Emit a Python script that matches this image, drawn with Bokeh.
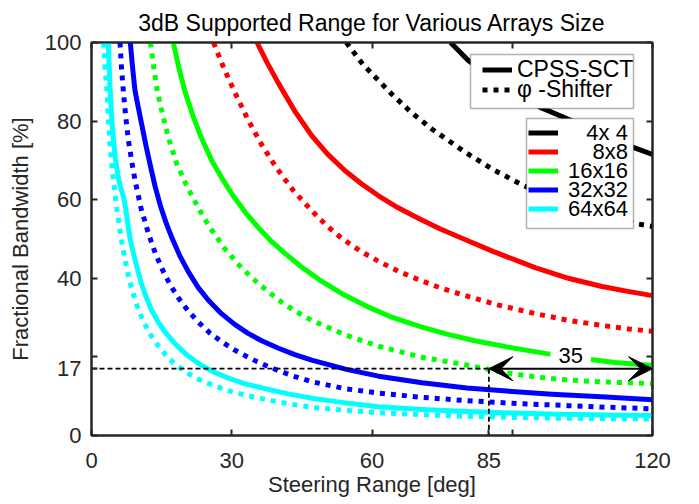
from bokeh.plotting import figure
from bokeh.models import (Legend, LegendItem, LinearAxis, FixedTicker, Label,
                          Arrow, VeeHead, Range1d, BoxAnnotation)
from bokeh.embed import file_html
from bokeh.resources import INLINE

FONT = "Liberation Sans"
AX_COLOR = "#262626"

# ---------------- data ----------------
title_text = "3dB Supported Range for Various Arrays Size"
array_sizes = ["4x 4", "8x8", "16x16", "32x32", "64x64"]
colors = ["#000000", "#FF0000", "#00FF00", "#0000FF", "#00FFFF"]

# CPSS-SCT (solid lines): steering range [deg] -> fractional bandwidth [%]
cpss_x_4 = [76.8, 80.6, 88.0, 96.0, 102.5, 109.0, 115.9, 120.0]
cpss_y_4 = [100.0, 95.4, 89.0, 83.5, 80.2, 76.6, 73.3, 71.5]
cpss_x_8 = [35.4, 37.5, 40.0, 43.5, 47.1, 50.5, 54.3, 57.8, 61.4, 65.5, 69.9, 74.5,
            80.0, 86.0, 94.9, 102.0, 109.2, 115.0, 120.0]
cpss_y_8 = [100.0, 95.0, 89.6, 82.5, 76.3, 71.6, 67.3, 64.0, 61.0, 58.0, 55.3, 52.6,
            49.8, 46.8, 42.7, 40.0, 37.9, 36.6, 35.6]
cpss_x_16 = [17.5, 18.7, 20.0, 21.8, 23.6, 25.7, 27.9, 30.4, 32.9, 35.6, 38.3, 41.5,
             45.0, 49.0, 54.3, 59.0, 64.0, 70.7, 76.0, 82.0, 90.0, 97.0, 105.0,
             112.0, 120.0]
cpss_y_16 = [100.0, 93.5, 87.5, 81.0, 75.5, 70.0, 65.5, 60.8, 56.8, 53.0, 49.6, 46.2,
             42.8, 39.4, 35.6, 32.8, 30.2, 27.6, 25.8, 24.1, 22.3, 20.9, 19.6, 18.6,
             17.8]
cpss_x_32 = [8.3, 8.8, 9.3, 10.0, 10.8, 11.7, 12.6, 13.6, 14.7, 15.9, 17.2, 18.9, 20.7,
             22.8, 25.0, 27.8, 30.7, 33.5, 36.4, 40.0, 43.5, 47.1, 54.3, 61.4, 70.7,
             80.3, 90.0, 98.5, 110.0, 120.0]
cpss_y_32 = [100.0, 93.5, 87.8, 83.5, 78.8, 73.5, 68.6, 63.4, 58.6, 54.3, 50.3, 45.7,
             41.7, 37.7, 34.4, 31.0, 28.2, 26.0, 24.1, 22.2, 20.6, 19.2, 16.9, 15.1,
             13.4, 12.1, 11.2, 10.5, 9.8, 9.1]
cpss_x_64 = [3.6, 3.8, 4.0, 4.3, 4.7, 5.2, 5.8, 6.4, 6.8, 7.1, 7.4, 7.8, 8.3, 9.0, 9.7,
             10.6, 11.5, 12.8, 14.3, 16.0, 17.9, 20.2, 22.9, 25.9, 29.3, 33.0, 37.2,
             42.0, 47.1, 54.3, 61.4, 70.7, 80.3, 90.0, 100.0, 110.0, 120.0]
cpss_y_64 = [100.0, 93.5, 87.8, 81.3, 75.1, 69.8, 65.2, 62.4, 60.9, 59.2, 57.0, 53.6,
             49.8, 46.2, 42.9, 39.0, 35.8, 32.0, 28.8, 25.9, 23.3, 20.7, 18.3, 16.3,
             14.6, 13.1, 11.9, 10.6, 9.5, 8.3, 7.3, 6.6, 6.1, 5.7, 5.4, 5.2, 5.1]

# phi-Shifter (dotted lines)
phi_x_4 = [54.5, 58.0, 64.2, 68.5, 72.8, 79.9, 86.0, 92.4, 98.5, 105.0, 111.0, 117.0, 120.0]
phi_y_4 = [100.0, 94.5, 86.9, 82.1, 78.0, 72.1, 67.6, 63.6, 60.5, 57.6, 55.4, 53.8, 53.2]
phi_x_8 = [26.1, 28.3, 30.7, 33.5, 36.4, 39.6, 43.2, 47.1, 50.3, 53.5, 57.3, 61.4,
           66.0, 70.7, 75.0, 79.6, 87.0, 94.9, 102.0, 109.2, 115.0, 120.0]
phi_y_8 = [100.0, 93.5, 87.2, 80.3, 74.0, 68.0, 62.3, 57.2, 53.4, 50.2, 47.1, 44.3,
           41.6, 39.3, 37.4, 35.7, 33.2, 31.0, 29.3, 28.0, 27.1, 26.5]
phi_x_16 = [12.6, 13.3, 14.0, 14.9, 15.8, 16.9, 18.2, 20.1, 22.2, 23.9, 25.7, 28.4,
            31.4, 33.9, 36.4, 40.0, 43.5, 47.1, 54.3, 61.4, 70.7, 79.9, 87.8, 95.0,
            102.0, 110.0, 120.0]
phi_y_16 = [100.0, 93.8, 88.0, 83.2, 78.8, 74.0, 69.3, 64.2, 59.4, 55.7, 52.3, 47.7,
            43.6, 40.6, 38.0, 34.5, 31.7, 29.3, 25.6, 22.7, 19.9, 18.0, 16.1, 14.9,
            14.1, 13.6, 13.2]
phi_x_32 = [6.1, 6.4, 6.8, 7.3, 7.9, 8.6, 9.3, 10.6, 12.2, 13.7, 15.4, 17.0, 18.6, 20.6,
            22.9, 25.3, 27.9, 30.4, 32.9, 35.4, 37.9, 40.0, 43.5, 47.1, 54.3, 61.4, 70.7,
            79.9, 90.0, 102.0, 110.0, 120.0]
phi_y_32 = [100.0, 93.8, 87.8, 81.3, 75.1, 69.8, 65.0, 57.8, 51.3, 46.2, 41.6, 38.0,
            35.0, 31.8, 28.8, 26.1, 23.8, 21.9, 20.3, 18.8, 17.5, 16.5, 15.0, 13.7,
            11.9, 10.8, 9.7, 8.9, 8.2, 7.6, 7.2, 6.8]
phi_x_64 = [2.6, 2.9, 3.3, 3.6, 3.9, 4.3, 4.8, 5.4, 6.1, 6.6, 7.2, 7.9, 8.6, 9.8, 11.1,
            12.6, 14.3, 16.0, 17.9, 20.2, 22.9, 25.9, 29.3, 33.5, 37.9, 42.5, 47.1,
            54.3, 61.4, 70.7, 79.9, 90.0, 100.0, 110.0, 120.0]
phi_y_64 = [100.0, 93.5, 87.8, 81.0, 75.1, 69.5, 63.8, 57.8, 52.2, 48.5, 44.6, 40.7,
            37.3, 32.8, 29.0, 25.7, 22.8, 20.3, 18.1, 16.1, 14.3, 12.8, 11.4, 10.1,
            9.0, 8.0, 7.2, 6.4, 5.8, 5.3, 4.9, 4.6, 4.4, 4.3, 4.2]

cpss_x = [cpss_x_4, cpss_x_8, cpss_x_16, cpss_x_32, cpss_x_64]
cpss_y = [cpss_y_4, cpss_y_8, cpss_y_16, cpss_y_32, cpss_y_64]
phi_x = [phi_x_4, phi_x_8, phi_x_16, phi_x_32, phi_x_64]
phi_y = [phi_y_4, phi_y_8, phi_y_16, phi_y_32, phi_y_64]

# annotation values
bw_target = 17        # %
steer_a = 85          # deg
steer_b = 120         # deg

x_ticks = [0, 30, 60, 85, 120]
x_minor = [90]
y_ticks = [0, 17, 40, 60, 80, 100]
y_minor = [20]
top_ticks = [0, 30, 60, 90, 120]
right_ticks = [0, 20, 40, 60, 80, 100]

series_names = ["CPSS-SCT", "\u03c6 -Shifter"]

# ---------------- layout constants (pixels) ----------------
W, H = 690, 500
FL, FR, FT, FB = 91, 652, 42, 435          # frame edges on the canvas

# ---------------- figure ----------------
p = figure(width=W, height=H, output_backend="svg", toolbar_location=None,
           x_range=Range1d(0, 120), y_range=Range1d(0, 100),
           min_border_left=FL, min_border_right=W - FR, min_border_top=FT,
           min_border_bottom=H - FB)
p.background_fill_color = "white"
p.border_fill_color = "white"
p.outline_line_color = AX_COLOR
p.outline_line_width = 2
p.grid.grid_line_color = None

p.title.text = title_text
p.title.align = "center"
p.title.text_font = FONT
p.title.text_font_size = "23px"
p.title.text_font_style = "normal"
p.title.text_color = "#000000"
p.title.standoff = 14


def style_axis(ax, labels=True):
    ax.axis_line_color = AX_COLOR
    ax.axis_line_width = 2
    ax.major_tick_in = 6
    ax.major_tick_out = 0
    ax.minor_tick_in = 6
    ax.minor_tick_out = 0
    ax.major_tick_line_color = AX_COLOR
    ax.minor_tick_line_color = AX_COLOR
    ax.major_tick_line_width = 2
    ax.minor_tick_line_width = 2
    ax.major_label_text_font = FONT
    ax.major_label_text_font_size = "22px" if labels else "0px"
    ax.major_label_text_color = AX_COLOR
    ax.axis_label_text_font = FONT
    ax.axis_label_text_font_size = "22px"
    ax.axis_label_text_font_style = "normal"
    ax.axis_label_text_color = AX_COLOR


xa = p.xaxis[0]
xa.ticker = FixedTicker(ticks=x_ticks, minor_ticks=x_minor)
xa.axis_label = "Steering Range [deg]"
style_axis(xa)
xa.major_label_standoff = 17
xa.axis_label_standoff = 1

ya = p.yaxis[0]
ya.ticker = FixedTicker(ticks=y_ticks, minor_ticks=y_minor)
ya.axis_label = "Fractional Bandwidth [%]"
style_axis(ya)
ya.major_label_standoff = 10
ya.axis_label_standoff = 9

top_ax = LinearAxis(ticker=FixedTicker(ticks=top_ticks))
style_axis(top_ax, labels=False)
top_ax.major_label_standoff = 0
p.add_layout(top_ax, "above")
right_ax = LinearAxis(ticker=FixedTicker(ticks=right_ticks))
style_axis(right_ax, labels=False)
right_ax.major_label_standoff = 0
p.add_layout(right_ax, "right")

# ---------------- curves ----------------
solid_r = []
dot_r = []
for i, c in enumerate(colors):
    rd = p.line(phi_x[i], phi_y[i], line_color=c, line_width=5, line_dash="5 6",
                line_cap="butt", line_join="round")
    dot_r.append(rd)
for i, c in enumerate(colors):
    rs = p.line(cpss_x[i], cpss_y[i], line_color=c, line_width=5, line_join="round")
    solid_r.append(rs)

# reference dashed lines
p.line([0, steer_a], [bw_target, bw_target], line_color="black", line_width=1.8,
       line_dash="5 3")
p.line([steer_a, steer_a], [bw_target, -2], line_color="black", line_width=1.8,
       line_dash="5 3")
p.line([steer_b, steer_b], [bw_target, -2], line_color="black", line_width=1.8,
       line_dash="5 3")

# "35" label with white background, then the arrow on top
p.add_layout(Label(x=(steer_a + steer_b) / 2, y=bw_target + 3.4,
                   text=str(steer_b - steer_a), text_align="center",
                   text_baseline="middle", text_font=FONT, text_font_size="22px",
                   text_color="black", background_fill_color="white",
                   padding=(8, 0)))
p.add_layout(Arrow(x_start=steer_a, y_start=bw_target, x_end=steer_b, y_end=bw_target,
                   line_width=2, line_color="black",
                   start=VeeHead(size=24, fill_color="black", line_color="black"),
                   end=VeeHead(size=24, fill_color="black", line_color="black")))

# ---------------- legends (box + one row-legend per entry) ----------------
char_w = {"x": 0.5, " ": 0.278}
def text_w(s):
    return sum(char_w.get(ch, 0.556) for ch in s)
max_w = max(text_w(s) for s in array_sizes)
padded = ["\u00a0" * int(round((max_w - text_w(s)) / 0.278)) + s for s in array_sizes]


def legend_box(left, top, right, bottom):
    p.add_layout(BoxAnnotation(left=left, right=right, top=top, bottom=bottom,
                               left_units="canvas", right_units="canvas",
                               top_units="canvas", bottom_units="canvas",
                               fill_color="white", fill_alpha=1.0,
                               line_color="black", line_width=1.5,
                               level="annotation"))


def legend_row(label, renderer, glyph_left, row_center, font_size, standoff):
    row_h = 25
    lg = Legend(items=[LegendItem(label=label, renderers=[renderer])],
                location=(glyph_left - FL, FB - (row_center + row_h / 2)))
    lg.border_line_color = None
    lg.background_fill_alpha = 0
    lg.padding = 0
    lg.margin = 0
    lg.spacing = 0
    lg.glyph_width = 30
    lg.glyph_height = row_h
    lg.label_height = row_h
    lg.label_standoff = standoff
    lg.label_text_font = FONT
    lg.label_text_font_size = font_size
    lg.label_text_color = "black"
    lg.label_text_baseline = "middle"
    p.add_layout(lg)


# legend 1: line styles
legend_box(470, 54, 633, 108)
legend_row(series_names[0], solid_r[0], 482, 70, "23px", 5)
legend_row(series_names[1], dot_r[0], 482, 90, "23px", 5)

# legend 2: array sizes
legend_box(526, 118, 633, 228)
row_centers2 = [133, 152, 171, 190, 209]
for i in range(len(colors)):
    legend_row(padded[i], solid_r[i], 528, row_centers2[i], "22px", 10)

open("out.html", "w").write(file_html(p, INLINE))
